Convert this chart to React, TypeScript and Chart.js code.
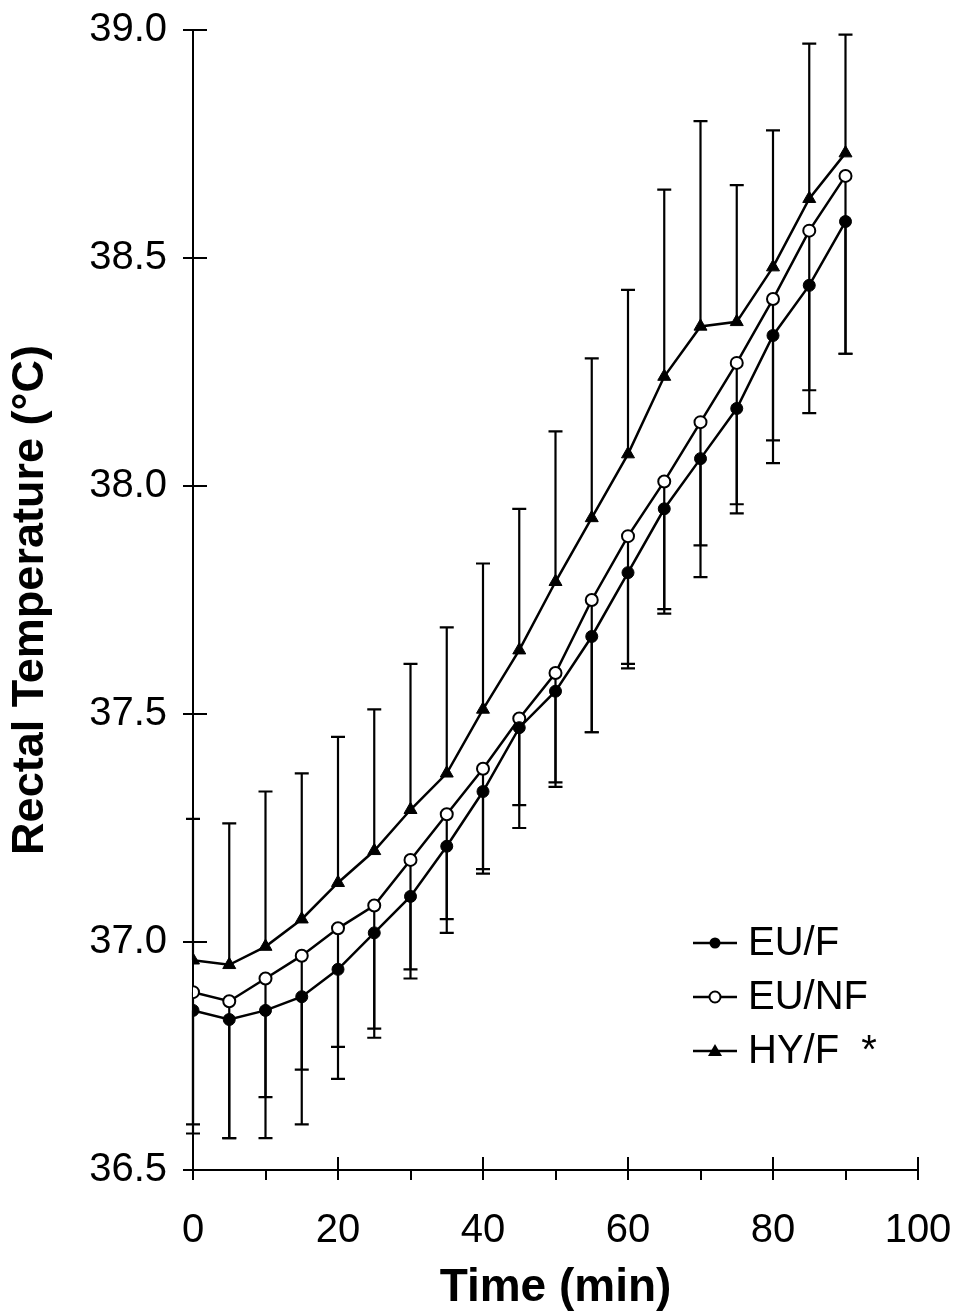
import React, { useEffect, useRef } from "react";
import { Chart, registerables } from "chart.js";

Chart.register(...registerables);

// Sampling times (min)
const times = [0, 5, 10, 15, 20, 25, 30, 35, 40, 45, 50, 55, 60, 65, 70, 75, 80, 85, 90];

// Mean rectal temperature (°C) per group
const euF = [36.85, 36.83, 36.85, 36.88, 36.94, 37.02, 37.10, 37.21, 37.33, 37.47, 37.55, 37.67, 37.81, 37.95, 38.06, 38.17, 38.33, 38.44, 38.58];
const euNF = [36.89, 36.87, 36.92, 36.97, 37.03, 37.08, 37.18, 37.28, 37.38, 37.49, 37.59, 37.75, 37.89, 38.01, 38.14, 38.27, 38.41, 38.56, 38.68];
const hyF = [36.96, 36.95, 36.99, 37.05, 37.13, 37.20, 37.29, 37.37, 37.51, 37.64, 37.79, 37.93, 38.07, 38.24, 38.35, 38.36, 38.48, 38.63, 38.73];

// Error bar ends (mean - SD for EU groups, mean + SD for HY/F)
const euFLower = [36.58, 36.57, 36.57, 36.60, 36.70, 36.79, 36.92, 37.02, 37.15, 37.25, 37.34, 37.46, 37.60, 37.72, 37.80, 37.94, 38.05, 38.16, 38.29];
const euNFLower = [36.60, 36.57, 36.66, 36.72, 36.77, 36.81, 36.94, 37.05, 37.16, 37.30, 37.35, 37.46, 37.61, 37.73, 37.87, 37.96, 38.10, 38.21, 38.29];
const hyFUpper = [37.27, 37.26, 37.33, 37.37, 37.45, 37.51, 37.61, 37.69, 37.83, 37.95, 38.12, 38.28, 38.43, 38.65, 38.80, 38.66, 38.78, 38.97, 38.99];

// Series labels and axis text
const seriesLabels = ["EU/F", "EU/NF", "HY/F  *"];
const xMajorTicks = [0, 20, 40, 60, 80, 100];
const yMajorTicks = [36.5, 37.0, 37.5, 38.0, 38.5, 39.0];
const xTitle = "Time (min)";
const yTitle = "Rectal Temperature (°C)";

const FONT = "'Liberation Sans', Arial, Helvetica, sans-serif";

const errorBars = [
  { series: euF, ends: euFLower },
  { series: euNF, ends: euNFLower },
  { series: hyF, ends: hyFUpper },
];

// Vertical error bars with caps, drawn under the markers
const errorBarPlugin = {
  id: "errorBars",
  beforeDatasetsDraw(chart: any) {
    const { ctx, scales } = chart;
    const xs = scales.x;
    const ys = scales.y;
    ctx.save();
    ctx.strokeStyle = "#000";
    ctx.lineWidth = 2.2;
    for (const eb of errorBars) {
      times.forEach((t, i) => {
        const px = xs.getPixelForValue(t);
        const y0 = ys.getPixelForValue(eb.series[i]);
        const y1 = ys.getPixelForValue(eb.ends[i]);
        ctx.beginPath();
        ctx.moveTo(px, y0);
        ctx.lineTo(px, y1);
        ctx.moveTo(px - 7, y1);
        ctx.lineTo(px + 7, y1);
        ctx.stroke();
      });
    }
    ctx.restore();
  },
};

// Inner halves of the major ticks (ticks cross the axis lines)
const innerTickPlugin = {
  id: "innerTicks",
  afterDraw(chart: any) {
    const { ctx, scales, chartArea } = chart;
    ctx.save();
    ctx.strokeStyle = "#000";
    ctx.lineWidth = 2;
    ctx.beginPath();
    for (const v of xMajorTicks) {
      const px = scales.x.getPixelForValue(v);
      ctx.moveTo(px, chartArea.bottom);
      ctx.lineTo(px, chartArea.bottom - 13);
    }
    for (const v of yMajorTicks) {
      const py = scales.y.getPixelForValue(v);
      ctx.moveTo(chartArea.left, py);
      ctx.lineTo(chartArea.left + 14, py);
    }
    ctx.stroke();
    ctx.restore();
  },
};

// Legend in the lower right of the plot area
const legendPlugin = {
  id: "insideLegend",
  afterDraw(chart: any) {
    const { ctx } = chart;
    const rows = [943, 997, 1051];
    const x0 = 693;
    const x1 = 737;
    ctx.save();
    ctx.font = `40px ${FONT}`;
    ctx.textBaseline = "middle";
    ctx.fillStyle = "#000";
    ctx.strokeStyle = "#000";
    seriesLabels.forEach((label, i) => {
      const y = rows[i];
      const cx = (x0 + x1) / 2;
      ctx.lineWidth = 2.4;
      ctx.beginPath();
      ctx.moveTo(x0, y);
      ctx.lineTo(x1, y);
      ctx.stroke();
      if (i === 0) {
        ctx.beginPath();
        ctx.arc(cx, y, 5.5, 0, Math.PI * 2);
        ctx.fillStyle = "#000";
        ctx.fill();
      } else if (i === 1) {
        ctx.beginPath();
        ctx.arc(cx, y, 5.5, 0, Math.PI * 2);
        ctx.fillStyle = "#fff";
        ctx.fill();
        ctx.lineWidth = 2;
        ctx.stroke();
      } else {
        ctx.beginPath();
        ctx.moveTo(cx, y - 7);
        ctx.lineTo(cx + 7, y + 5);
        ctx.lineTo(cx - 7, y + 5);
        ctx.closePath();
        ctx.fillStyle = "#000";
        ctx.fill();
      }
      ctx.fillStyle = "#000";
      ctx.fillText(label, 748, y + 1);
    });
    ctx.restore();
  },
};

export default function App() {
  const canvasRef = useRef<HTMLCanvasElement | null>(null);

  useEffect(() => {
    if (!canvasRef.current) return;
    const toPoints = (arr: number[]) => times.map((t, i) => ({ x: t, y: arr[i] }));
    const chart = new Chart(canvasRef.current, {
      type: "line",
      data: {
        datasets: [
          {
            label: seriesLabels[0],
            data: toPoints(euF),
            borderColor: "#000",
            borderWidth: 2.5,
            pointStyle: "circle",
            pointRadius: 6,
            pointBackgroundColor: "#000",
            pointBorderColor: "#000",
            pointBorderWidth: 1,
            tension: 0,
          },
          {
            label: seriesLabels[1],
            data: toPoints(euNF),
            borderColor: "#000",
            borderWidth: 2.5,
            pointStyle: "circle",
            pointRadius: 6,
            pointBackgroundColor: "#fff",
            pointBorderColor: "#000",
            pointBorderWidth: 2,
            tension: 0,
          },
          {
            label: seriesLabels[2],
            data: toPoints(hyF),
            borderColor: "#000",
            borderWidth: 2.5,
            pointStyle: "triangle",
            pointRadius: 7.5,
            pointBackgroundColor: "#000",
            pointBorderColor: "#000",
            pointBorderWidth: 1,
            tension: 0,
          },
        ],
      },
      options: {
        animation: false,
        responsive: true,
        maintainAspectRatio: false,
        layout: { padding: { top: 30, right: 38, bottom: 0, left: 0 } },
        plugins: { legend: { display: false }, tooltip: { enabled: false } },
        scales: {
          x: {
            type: "linear",
            min: 0,
            max: 100,
            afterFit(scale: any) {
              scale.height = 146;
              scale.paddingLeft = 0;
              scale.paddingRight = 0;
            },
            ticks: {
              stepSize: 10,
              autoSkip: false,
              maxRotation: 0,
              color: "#000",
              padding: 27,
              font: { family: FONT, size: 40 },
              callback: (v: any) => (Number(v) % 20 === 0 ? String(v) : ""),
            },
            grid: { drawOnChartArea: false, drawTicks: true, tickLength: 10, color: "#000", lineWidth: 2 },
            border: { display: true, color: "#000", width: 2 },
            title: {
              display: true,
              text: xTitle,
              color: "#000",
              font: { family: FONT, size: 46, weight: "bold" },
              padding: { top: 0, bottom: 0 },
            },
          },
          y: {
            type: "linear",
            min: 36.5,
            max: 39.0,
            afterFit(scale: any) {
              scale.width = 193;
              scale.paddingTop = 0;
              scale.paddingBottom = 0;
            },
            ticks: {
              stepSize: 0.5,
              color: "#000",
              padding: 16,
              font: { family: FONT, size: 40 },
              callback: (v: any) => Number(v).toFixed(1),
            },
            grid: { drawOnChartArea: false, drawTicks: true, tickLength: 10, color: "#000", lineWidth: 2 },
            border: { display: true, color: "#000", width: 2 },
            title: {
              display: true,
              text: yTitle,
              color: "#000",
              font: { family: FONT, size: 45, weight: "bold" },
              padding: { top: 4, bottom: 0 },
            },
          },
        },
      },
      plugins: [errorBarPlugin, innerTickPlugin, legendPlugin],
    });
    return () => chart.destroy();
  }, []);

  return (
    <div style={{ position: "fixed", left: 0, top: 0, width: 956, height: 1316, background: "#fff" }}>
      <canvas ref={canvasRef} />
    </div>
  );
}
